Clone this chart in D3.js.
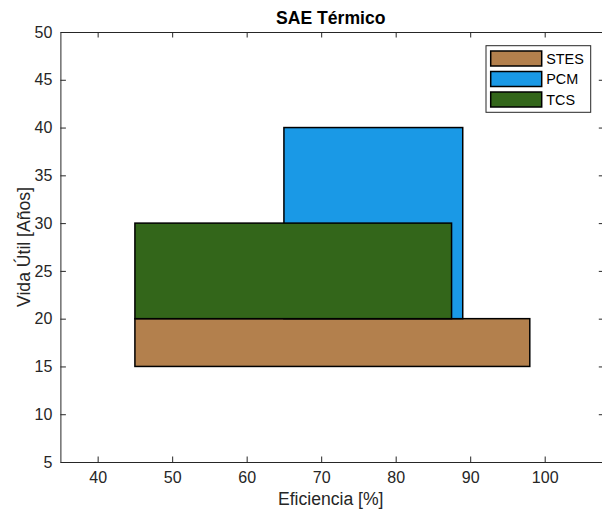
<!DOCTYPE html>
<html>
<head>
<meta charset="utf-8">
<script src="https://cdn.jsdelivr.net/npm/d3@7"></script>
<style>
  html, body { margin: 0; padding: 0; background: #fff; }
  svg { display: block; font-family: "Liberation Sans", Arial, Helvetica, sans-serif; }
</style>
</head>
<body>
<div id="chart"></div>
<script>
// Thermal storage technologies: efficiency range [%] vs. service life range [years]
const technologies = ["STES", "PCM", "TCS"];
const effMin  = [45, 65, 45];
const effMax  = [98, 89, 87.5];
const lifeMin = [15, 20, 20];
const lifeMax = [20, 40, 30];
const colors  = ["#b3804d", "#1a99e6", "#33661a"];

const xTicks = [40, 50, 60, 70, 80, 90, 100];
const yTicks = [5, 10, 15, 20, 25, 30, 35, 40, 45, 50];
const xDomain = [35, 108];
const yDomain = [5, 50];

const W = 602, H = 519;
const margin = { left: 60.4, top: 32, bottom: 462 };
const axisColor = "#262626";
const tickLen = 5.5;

const svg = d3.select("#chart").append("svg")
  .attr("width", W).attr("height", H);

const x = d3.scaleLinear().domain(xDomain).range([margin.left, 604.3]);
const y = d3.scaleLinear().domain(yDomain).range([margin.bottom, margin.top]);

// Rectangles, drawn in series order so later ones sit on top
const data = technologies.map((name, i) => ({
  name, x0: effMin[i], x1: effMax[i], y0: lifeMin[i], y1: lifeMax[i], color: colors[i]
}));

svg.append("g").selectAll("rect").data(data).join("rect")
  .attr("x", d => x(d.x0))
  .attr("y", d => y(d.y1))
  .attr("width", d => x(d.x1) - x(d.x0))
  .attr("height", d => y(d.y0) - y(d.y1))
  .attr("fill", d => d.color)
  .attr("stroke", "#000")
  .attr("stroke-width", 1.5);

// Axes (ticks pointing inward on all four sides)
const fontTick = 16;
const gB = svg.append("g").attr("transform", `translate(0,${margin.bottom})`)
  .call(d3.axisBottom(x).tickValues(xTicks).tickSizeInner(-tickLen).tickSizeOuter(0).tickPadding(10));
const gT = svg.append("g").attr("transform", `translate(0,${margin.top})`)
  .call(d3.axisTop(x).tickValues(xTicks).tickSizeInner(-tickLen).tickSizeOuter(0).tickFormat(""));
const gL = svg.append("g").attr("transform", `translate(${margin.left},0)`)
  .call(d3.axisLeft(y).tickValues(yTicks).tickSizeInner(-tickLen).tickSizeOuter(0).tickPadding(8));
const gR = svg.append("g").attr("transform", `translate(${x(xDomain[1])},0)`)
  .call(d3.axisRight(y).tickValues(yTicks).tickSizeInner(-tickLen).tickSizeOuter(0).tickFormat(""));

[gB, gT, gL, gR].forEach(g => {
  g.selectAll("path.domain").attr("stroke", axisColor).attr("stroke-width", 1);
  g.selectAll(".tick line").attr("stroke", axisColor).attr("stroke-width", 1);
  g.selectAll(".tick text").attr("fill", axisColor)
    .attr("font-size", fontTick).attr("font-family", null);
});
gB.selectAll(".tick text").attr("dy", "0.71em");

// Title and axis labels
svg.append("text")
  .attr("x", (margin.left + 601) / 2).attr("y", 24)
  .attr("text-anchor", "middle")
  .attr("font-size", 17.6).attr("font-weight", "bold").attr("fill", "#000")
  .text("SAE Térmico");

svg.append("text")
  .attr("x", (margin.left + 601) / 2).attr("y", 505)
  .attr("text-anchor", "middle")
  .attr("font-size", 17.6).attr("fill", axisColor)
  .text("Eficiencia [%]");

svg.append("text")
  .attr("transform", `translate(30,${(margin.top + margin.bottom) / 2}) rotate(-90)`)
  .attr("text-anchor", "middle")
  .attr("font-size", 17.6).attr("fill", axisColor)
  .text("Vida Útil [Años]");

// Legend
const legend = svg.append("g");
legend.append("rect")
  .attr("x", 486).attr("y", 45.7).attr("width", 104.7).attr("height", 66.6)
  .attr("fill", "#fff").attr("stroke", axisColor).attr("stroke-width", 1);

const items = legend.selectAll("g.item").data(data).join("g")
  .attr("class", "item")
  .attr("transform", (d, i) => `translate(490.7,${51 + i * 20.5})`);
items.append("rect")
  .attr("width", 51).attr("height", 15)
  .attr("fill", d => d.color).attr("stroke", "#000").attr("stroke-width", 1.5);
items.append("text")
  .attr("x", 55.5).attr("y", 7.5).attr("dy", "0.36em")
  .attr("font-size", 14.4).attr("fill", "#000")
  .text(d => d.name);
</script>
</body>
</html>
